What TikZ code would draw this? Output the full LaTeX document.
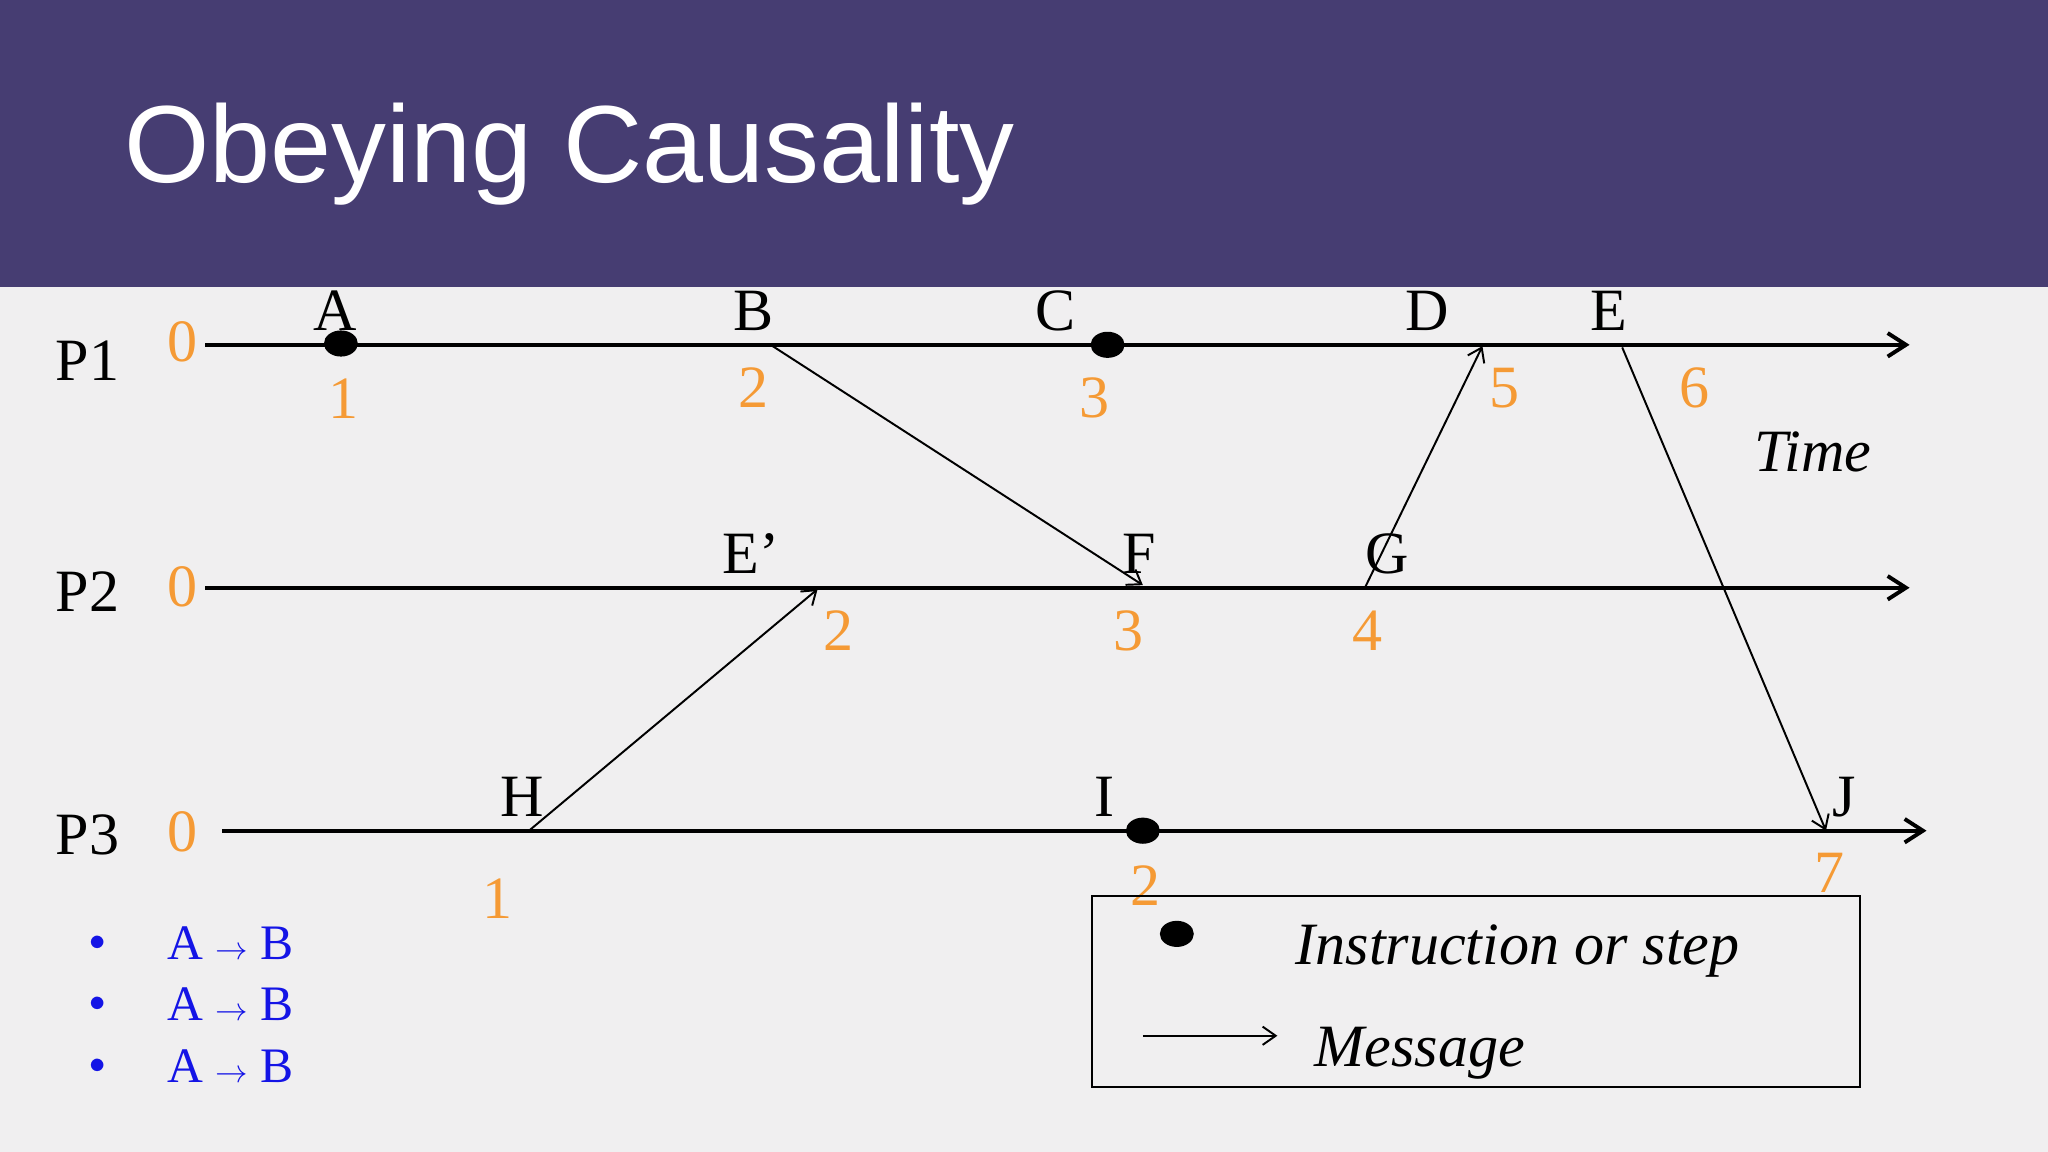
\documentclass[tikz,border=0pt]{standalone}
\usepackage{fontspec}
\setmainfont{Liberation Serif}
\newfontfamily\titlefont{Liberation Sans}
\usetikzlibrary{arrows.meta}
\definecolor{band}{HTML}{463D72}
\definecolor{bg}{HTML}{F0EFF0}
\definecolor{org}{HTML}{F59A35}
\definecolor{blu}{HTML}{1414E6}
\begin{document}
\begin{tikzpicture}[x=1pt,y=-1pt,
  lbl/.style={font=\fontsize{46}{46}\selectfont, inner sep=0},
  num/.style={font=\fontsize{46}{46}\selectfont, text=org, inner sep=0},
  tl/.style={line width=3pt,-{Straight Barb[length=14pt,width=18pt,line width=3pt]}},
  msg/.style={line width=1.5pt,-{Straight Barb[length=10pt,width=14pt]}},
  dot/.style={fill=black,ellipse,minimum width=26pt,minimum height=20pt,inner sep=0},
  bl/.style={font=\fontsize{38}{38}\selectfont, text=blu, anchor=west, inner sep=0}]
\usetikzlibrary{shapes.geometric}
\useasboundingbox (0,0) rectangle (1568,882);
\fill[bg] (0,0) rectangle (1568,882);
\fill[band] (0,0) rectangle (1568,220);
\node[anchor=base west,text=white,inner sep=0,font=\titlefont\fontsize{84}{84}\selectfont] (title) at (95,140) {Obeying Causality};
% process lines
\coordinate (p1s) at (157,264); \coordinate (p1e) at (1462,264);
\coordinate (p2s) at (157,450); \coordinate (p2e) at (1462,450);
\coordinate (p3s) at (170,636); \coordinate (p3e) at (1475,636);
\draw[tl] (p1s) -- (p1e);
\draw[tl] (p2s) -- (p2e);
\draw[tl] (p3s) -- (p3e);
\node[lbl] (P1) at (67,276) {P1};
\node[lbl] (P2) at (67,453) {P2};
\node[lbl] (P3) at (67,639) {P3};
\node[num] (z1) at (140,262) {0};
\node[num] (z2) at (140,449) {0};
\node[num] (z3) at (140,637) {0};
% dots
\node[dot] (dA) at (261,263) {};
\node[dot] (dC) at (848,264) {};
\node[dot] (dI) at (875,636) {};
% letters
\node[lbl] (A) at (257,238) {A};
\node[lbl] (B) at (577,238) {B};
\node[lbl] (C) at (808,238) {C};
\node[lbl] (D) at (1093,238) {D};
\node[lbl] (E) at (1232,238) {E};
\node[lbl] (Ep) at (575,424) {E'};
\node[lbl] (F) at (872,424) {F};
\node[lbl] (G) at (1062,424) {G};
\node[lbl] (H) at (400,610) {H};
\node[lbl] (I) at (846,610) {I};
\node[lbl] (J) at (1412,610) {J};
% numbers
\node[num] (n1) at (263,305) {1};
\node[num] (n2) at (577,297) {2};
\node[num] (n3) at (838,305) {3};
\node[num] (n5) at (1152,297) {5};
\node[num] (n6) at (1297,297) {6};
\node[num] (m2) at (642,483) {2};
\node[num] (m3) at (864,483) {3};
\node[num] (m4) at (1047,483) {4};
\node[num] (k1) at (381,688) {1};
\node[num] (k2) at (877,678) {2};
\node[num] (k7) at (1401,668) {7};
\node[font=\fontsize{46}{46}\selectfont\itshape,inner sep=0] (time) at (1388,346) {Time};
% messages
\coordinate (mB) at (590,264); \coordinate (mF) at (875,448);
\coordinate (mG) at (1045,450); \coordinate (mD) at (1135,265);
\coordinate (mH) at (405,636); \coordinate (mE') at (626,451);
\coordinate (mE) at (1242,266); \coordinate (mJ) at (1398,636);
\draw[msg] (mB) -- (mF);
\draw[msg] (mG) -- (mD);
\draw[msg] (mH) -- (mE');
\draw[msg] (mE) -- (mJ);
% bullets
\foreach \y/\t [count=\i] in {722/{A $\boldsymbol{\rightarrow}$ B :: 1 < 2},769/{B $\boldsymbol{\rightarrow}$ F :: 2 < 3},816/{A $\boldsymbol{\rightarrow}$ F :: 1 < 3}}{
  \node[text=blu,font=\fontsize{30}{30}\selectfont,inner sep=0] (bu\i) at (75,\y) {$\bullet$};
  \node[bl] (bt\i) at (128,\y) {A $\mathbf{\to}$ B};
}
% legend
\draw[line width=1.5pt] (836,686) rectangle (1424,832);
\node[dot] (ld) at (901,715) {};
\node[font=\fontsize{46}{46}\selectfont\itshape,inner sep=0] (li) at (1162,728) {Instruction or step};
\coordinate (la) at (875,793); \coordinate (lb) at (978,793);
\draw[msg] (la) -- (lb);
\node[font=\fontsize{46}{46}\selectfont\itshape,inner sep=0] (lm) at (1087,806) {Message};
\end{tikzpicture}
\end{document}
